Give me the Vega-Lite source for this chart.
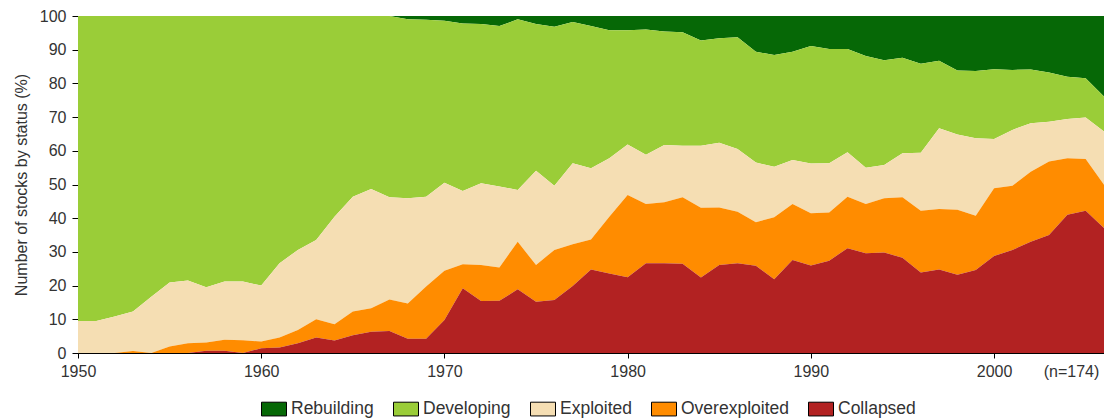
{
  "$schema": "https://vega.github.io/schema/vega-lite/v6.json",
  "width": 1026,
  "height": 337,
  "autosize": {"type": "none"},
  "padding": {"left": 78, "top": 16, "right": 0, "bottom": 66},
  "background": "white",
  "config": {
    "view": {"stroke": null},
    "font": "Liberation Sans",
    "axis": {"grid": false, "domainColor": "#000", "tickColor": "#000", "labelColor": "#333", "titleColor": "#333", "labelFontSize": 16, "titleFontSize": 16, "titleFontWeight": "normal"}
  },
  "data": {
    "values": [
      {"year": 1950, "Collapsed": 0, "Overexploited": 0, "Exploited": 9.5, "Developing": 90.5, "Rebuilding": 0},
      {"year": 1951, "Collapsed": 0, "Overexploited": 0, "Exploited": 9.5, "Developing": 90.5, "Rebuilding": 0},
      {"year": 1952, "Collapsed": 0, "Overexploited": 0, "Exploited": 10.8, "Developing": 89.2, "Rebuilding": 0},
      {"year": 1953, "Collapsed": 0, "Overexploited": 0.6, "Exploited": 11.7, "Developing": 87.7, "Rebuilding": 0},
      {"year": 1954, "Collapsed": 0, "Overexploited": 0, "Exploited": 16.7, "Developing": 83.3, "Rebuilding": 0},
      {"year": 1955, "Collapsed": 0, "Overexploited": 1.9, "Exploited": 19.0, "Developing": 79.1, "Rebuilding": 0},
      {"year": 1956, "Collapsed": 0, "Overexploited": 2.9, "Exploited": 18.6, "Developing": 78.5, "Rebuilding": 0},
      {"year": 1957, "Collapsed": 0.7, "Overexploited": 2.4, "Exploited": 16.4, "Developing": 80.5, "Rebuilding": 0},
      {"year": 1958, "Collapsed": 0.7, "Overexploited": 3.2, "Exploited": 17.3, "Developing": 78.8, "Rebuilding": 0},
      {"year": 1959, "Collapsed": 0, "Overexploited": 3.8, "Exploited": 17.4, "Developing": 78.8, "Rebuilding": 0},
      {"year": 1960, "Collapsed": 1.4, "Overexploited": 2.0, "Exploited": 16.6, "Developing": 80.0, "Rebuilding": 0},
      {"year": 1961, "Collapsed": 1.6, "Overexploited": 3.0, "Exploited": 22.0, "Developing": 73.4, "Rebuilding": 0},
      {"year": 1962, "Collapsed": 2.9, "Overexploited": 3.9, "Exploited": 23.8, "Developing": 69.4, "Rebuilding": 0},
      {"year": 1963, "Collapsed": 4.6, "Overexploited": 5.4, "Exploited": 23.5, "Developing": 66.5, "Rebuilding": 0},
      {"year": 1964, "Collapsed": 3.7, "Overexploited": 4.8, "Exploited": 31.9, "Developing": 59.6, "Rebuilding": 0},
      {"year": 1965, "Collapsed": 5.3, "Overexploited": 7.0, "Exploited": 34.1, "Developing": 53.6, "Rebuilding": 0},
      {"year": 1966, "Collapsed": 6.3, "Overexploited": 7.0, "Exploited": 35.4, "Developing": 51.3, "Rebuilding": 0},
      {"year": 1967, "Collapsed": 6.5, "Overexploited": 9.4, "Exploited": 30.3, "Developing": 53.8, "Rebuilding": 0},
      {"year": 1968, "Collapsed": 4.2, "Overexploited": 10.5, "Exploited": 31.2, "Developing": 53.1, "Rebuilding": 1.0},
      {"year": 1969, "Collapsed": 4.2, "Overexploited": 15.5, "Exploited": 26.7, "Developing": 52.5, "Rebuilding": 1.1},
      {"year": 1970, "Collapsed": 9.8, "Overexploited": 14.6, "Exploited": 26.1, "Developing": 48.1, "Rebuilding": 1.4},
      {"year": 1971, "Collapsed": 19.2, "Overexploited": 7.1, "Exploited": 21.8, "Developing": 49.7, "Rebuilding": 2.2},
      {"year": 1972, "Collapsed": 15.4, "Overexploited": 10.7, "Exploited": 24.3, "Developing": 47.2, "Rebuilding": 2.4},
      {"year": 1973, "Collapsed": 15.5, "Overexploited": 9.9, "Exploited": 24.0, "Developing": 47.6, "Rebuilding": 3.0},
      {"year": 1974, "Collapsed": 18.9, "Overexploited": 14.1, "Exploited": 15.4, "Developing": 50.6, "Rebuilding": 1.0},
      {"year": 1975, "Collapsed": 15.2, "Overexploited": 10.9, "Exploited": 28.0, "Developing": 43.5, "Rebuilding": 2.4},
      {"year": 1976, "Collapsed": 15.7, "Overexploited": 14.9, "Exploited": 19.0, "Developing": 47.2, "Rebuilding": 3.2},
      {"year": 1977, "Collapsed": 19.9, "Overexploited": 12.4, "Exploited": 24.0, "Developing": 41.9, "Rebuilding": 1.8},
      {"year": 1978, "Collapsed": 24.8, "Overexploited": 8.9, "Exploited": 21.1, "Developing": 42.2, "Rebuilding": 3.0},
      {"year": 1979, "Collapsed": 23.6, "Overexploited": 16.8, "Exploited": 17.4, "Developing": 38.0, "Rebuilding": 4.2},
      {"year": 1980, "Collapsed": 22.5, "Overexploited": 24.4, "Exploited": 15.0, "Developing": 33.9, "Rebuilding": 4.2},
      {"year": 1981, "Collapsed": 26.6, "Overexploited": 17.6, "Exploited": 14.6, "Developing": 37.2, "Rebuilding": 4.0},
      {"year": 1982, "Collapsed": 26.6, "Overexploited": 18.1, "Exploited": 17.0, "Developing": 33.7, "Rebuilding": 4.6},
      {"year": 1983, "Collapsed": 26.5, "Overexploited": 19.7, "Exploited": 15.3, "Developing": 33.7, "Rebuilding": 4.8},
      {"year": 1984, "Collapsed": 22.4, "Overexploited": 20.7, "Exploited": 18.4, "Developing": 31.2, "Rebuilding": 7.3},
      {"year": 1985, "Collapsed": 26.1, "Overexploited": 17.1, "Exploited": 19.2, "Developing": 31.0, "Rebuilding": 6.6},
      {"year": 1986, "Collapsed": 26.6, "Overexploited": 15.3, "Exploited": 18.6, "Developing": 33.2, "Rebuilding": 6.3},
      {"year": 1987, "Collapsed": 25.9, "Overexploited": 12.9, "Exploited": 17.7, "Developing": 32.9, "Rebuilding": 10.6},
      {"year": 1988, "Collapsed": 21.9, "Overexploited": 18.4, "Exploited": 15.0, "Developing": 33.1, "Rebuilding": 11.6},
      {"year": 1989, "Collapsed": 27.6, "Overexploited": 16.6, "Exploited": 13.1, "Developing": 32.1, "Rebuilding": 10.6},
      {"year": 1990, "Collapsed": 26.0, "Overexploited": 15.5, "Exploited": 14.7, "Developing": 34.9, "Rebuilding": 8.9},
      {"year": 1991, "Collapsed": 27.4, "Overexploited": 14.3, "Exploited": 14.6, "Developing": 33.9, "Rebuilding": 9.8},
      {"year": 1992, "Collapsed": 31.1, "Overexploited": 15.3, "Exploited": 13.2, "Developing": 30.6, "Rebuilding": 9.8},
      {"year": 1993, "Collapsed": 29.6, "Overexploited": 14.6, "Exploited": 10.8, "Developing": 33.1, "Rebuilding": 11.9},
      {"year": 1994, "Collapsed": 29.8, "Overexploited": 16.1, "Exploited": 9.9, "Developing": 31.1, "Rebuilding": 13.1},
      {"year": 1995, "Collapsed": 28.3, "Overexploited": 17.9, "Exploited": 13.1, "Developing": 28.3, "Rebuilding": 12.4},
      {"year": 1996, "Collapsed": 23.9, "Overexploited": 18.3, "Exploited": 17.2, "Developing": 26.4, "Rebuilding": 14.2},
      {"year": 1997, "Collapsed": 24.8, "Overexploited": 17.9, "Exploited": 24.0, "Developing": 20.0, "Rebuilding": 13.3},
      {"year": 1998, "Collapsed": 23.2, "Overexploited": 19.3, "Exploited": 22.3, "Developing": 19.0, "Rebuilding": 16.2},
      {"year": 1999, "Collapsed": 24.6, "Overexploited": 16.1, "Exploited": 23.0, "Developing": 20.0, "Rebuilding": 16.3},
      {"year": 2000, "Collapsed": 28.8, "Overexploited": 20.1, "Exploited": 14.6, "Developing": 20.7, "Rebuilding": 15.8},
      {"year": 2001, "Collapsed": 30.6, "Overexploited": 19.0, "Exploited": 16.6, "Developing": 17.8, "Rebuilding": 16.0},
      {"year": 2002, "Collapsed": 33.0, "Overexploited": 20.8, "Exploited": 14.4, "Developing": 15.9, "Rebuilding": 15.9},
      {"year": 2003, "Collapsed": 35.0, "Overexploited": 21.8, "Exploited": 11.8, "Developing": 14.6, "Rebuilding": 16.8},
      {"year": 2004, "Collapsed": 41.0, "Overexploited": 16.8, "Exploited": 11.6, "Developing": 12.6, "Rebuilding": 18.0},
      {"year": 2005, "Collapsed": 42.2, "Overexploited": 15.4, "Exploited": 12.3, "Developing": 11.6, "Rebuilding": 18.5},
      {"year": 2006, "Collapsed": 37.1, "Overexploited": 12.8, "Exploited": 15.8, "Developing": 10.4, "Rebuilding": 23.9}
    ]
  },
  "transform": [
    {"fold": ["Rebuilding", "Developing", "Exploited", "Overexploited", "Collapsed"], "as": ["status", "pct"]},
    {"calculate": "indexof(['Collapsed','Overexploited','Exploited','Developing','Rebuilding'], datum.status)", "as": "stackRank"}
  ],
  "mark": {"type": "area", "interpolate": "linear", "opacity": 1},
  "encoding": {
    "x": {
      "field": "year",
      "type": "quantitative",
      "scale": {"domain": [1950, 2006], "nice": false, "zero": false},
      "axis": {
        "title": null,
        "values": [1950, 1960, 1970, 1980, 1990, 2000, 2004.2],
        "format": "d",
        "labelExpr": "datum.value > 2003 ? '(n=174)' : datum.label",
        "labelFlush": false,
        "labelOverlap": false,
        "tickSize": 5,
        "labelPadding": 5,
        "tickColor": {"condition": {"test": "datum.value > 2003", "value": "transparent"}, "value": "#000"}
      }
    },
    "y": {
      "field": "pct",
      "type": "quantitative",
      "stack": "zero",
      "scale": {"domain": [0, 100], "nice": false},
      "axis": {
        "title": "Number of stocks by status (%)",
        "values": [0, 10, 20, 30, 40, 50, 60, 70, 80, 90, 100],
        "tickSize": 6,
        "labelPadding": 6,
        "titlePadding": 10
      }
    },
    "color": {
      "field": "status",
      "type": "nominal",
      "scale": {
        "domain": ["Rebuilding", "Developing", "Exploited", "Overexploited", "Collapsed"],
        "range": ["#066806", "#9ACD38", "#F5DEB3", "#FF8C00", "#B22222"]
      },
      "legend": {
        "title": null,
        "orient": "none",
        "legendX": 183,
        "legendY": 380,
        "direction": "horizontal",
        "symbolType": "M-1,-0.55H1V0.55H-1Z",
        "symbolSize": 625,
        "symbolStrokeColor": "#000",
        "symbolStrokeWidth": 1,
        "symbolOpacity": 1,
        "labelFontSize": 17.5,
        "labelColor": "#333",
        "labelOffset": 4,
        "columnPadding": 17
      }
    },
    "order": {"field": "stackRank", "type": "quantitative"}
  }
}
